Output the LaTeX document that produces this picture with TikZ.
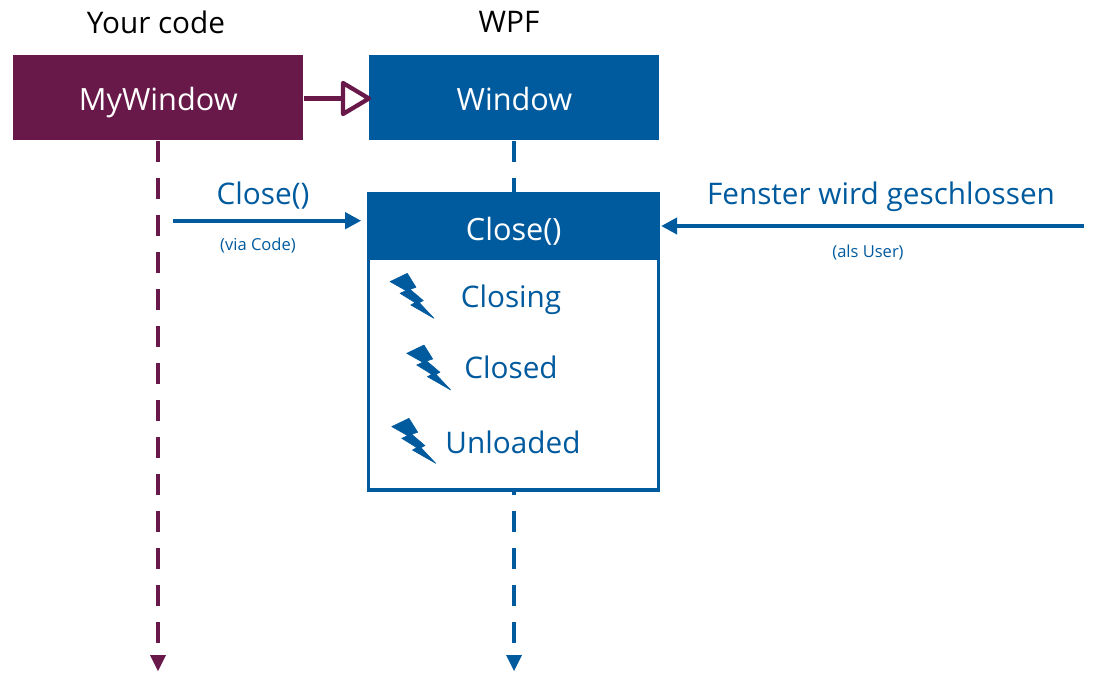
\documentclass[tikz,border=0pt]{standalone}
\usepackage{fontspec}
\usetikzlibrary{arrows.meta}
\setmainfont{Open Sans}
\definecolor{wpf}{HTML}{005A9E}
\definecolor{mine}{HTML}{68194A}
\tikzset{
  x=0.75pt,y=-0.75pt,
  box/.style={draw=none,minimum width=290*0.75pt,minimum height=85*0.75pt,inner sep=0pt,text=white,text height=18.5pt,text depth=0pt,font=\fontsize{23}{26}\selectfont},
  lbl/.style={inner sep=0pt,text=wpf,font=\fontsize{22.3}{26}\selectfont},
  small/.style={inner sep=0pt,text=wpf,font=\fontsize{12.4}{14}\selectfont},
  head/.style={inner sep=0pt,text=black,font=\fontsize{22.3}{26}\selectfont},
  life/.style={line width=3.6pt,dash pattern=on 15.75pt off 12pt},
  conn/.style={wpf,line width=3pt,-{Triangle[length=12pt,width=12pt]}},
  bolt/.pic={\filldraw[wpf,line width=0.4pt,line join=round] (0,8.3)--(17.3,0)--(26,14)--(20,16)--(33.3,27.3)--(29.3,29.3)--(44,45)--(20.7,31.7)--(25,29.3)--(10,20)--(16,17.3)--cycle;}
}
\begin{document}
\begin{tikzpicture}
\useasboundingbox (0,0) rectangle (1095,693);
\coordinate (mEnd) at (158,655);
\coordinate (wEnd) at (514,655);
\coordinate (cStart) at (173,220.7);
\coordinate (uStart) at (1084,226);
\node[head] at (156,22) {Your code};
\node[head] at (509,22) {WPF};
% lifelines
\node[box,fill=mine,anchor=north west] (my) at (13,55) {MyWindow};
\node[box,fill=wpf,anchor=north west] (win) at (369.2,55) {Window};
\draw[mine,life] (158,141) -- (mEnd);
\draw[wpf,life] (514,141) -- (wEnd);
\fill[mine] (150,655)--(166,655)--(158,671)--cycle;
\fill[wpf] (506,655)--(522,655)--(514,671)--cycle;
% call box
\node[draw=wpf,fill=white,line width=2.5pt,outer sep=0pt,minimum width=290*0.75pt,minimum height=232*0.75pt,inner sep=0pt,anchor=north west] (body) at (368.3,258) {};
\node[box,fill=wpf,outer sep=0pt,minimum width=293*0.75pt,minimum height=68*0.75pt,text height=21.5pt,anchor=north west] (call) at (367.2,192) {Close()};
% inheritance
\coordinate (ib) at (343,98.5);
\draw[mine,line width=3.2pt] (my.east |- ib) -- (ib);
\draw[mine,line width=3.2pt,line join=round,fill=white] (343,83)--(369,98.5)--(343,114)--cycle;
% arrows
\draw[conn] (cStart) -- ([xshift=-4.5]call.west |- cStart);
\draw[conn] (uStart) -- ([xshift=0.7]call.east |- uStart);
\node[lbl] at (263,196) {Close()};
\node[small] at (258,245.5) {(via Code)};
\node[lbl] at (881,197) {Fenster wird geschlossen};
\node[small] at (868,252.5) {(als User)};
\pic at (390,273.3) {bolt};
\pic at (406.7,345) {bolt};
\pic at (391.7,418.3) {bolt};
\node[lbl] at (511,300) {Closing};
\node[lbl] at (511,367) {Closed};
\node[lbl] at (513,442) {Unloaded};
\end{tikzpicture}
\end{document}
